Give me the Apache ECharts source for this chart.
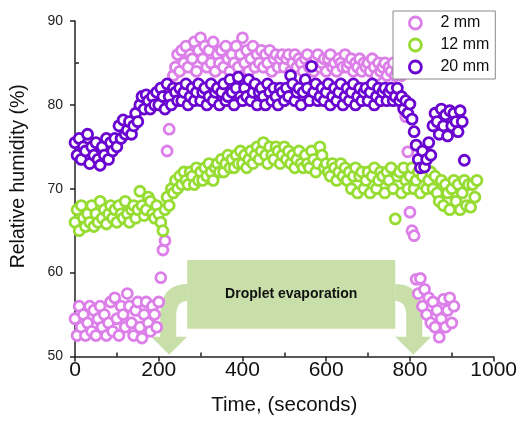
<!DOCTYPE html>
<html>
<head>
<meta charset="utf-8">
<script src="https://cdn.jsdelivr.net/npm/echarts@6/dist/echarts.min.js"></script>
<style>
html,body{margin:0;padding:0;background:#fff;}
#chart{width:520px;height:421px;}
</style>
</head>
<body>
<div id="chart"></div>
<script>
// Sampling times (s)
var time = [
  0,5,10,15,20,25,30,35,40,45,
  50,55,60,65,70,75,80,85,90,95,
  100,105,110,115,120,125,130,135,140,145,
  150,155,160,165,170,175,180,185,190,195,
  200,205,210,215,220,225,230,235,240,245,
  250,255,260,265,270,275,280,285,290,295,
  300,305,310,315,320,325,330,335,340,345,
  350,355,360,365,370,375,380,385,390,395,
  400,405,410,415,420,425,430,435,440,445,
  450,455,460,465,470,475,480,485,490,495,
  500,505,510,515,520,525,530,535,540,545,
  550,555,560,565,570,575,580,585,590,595,
  600,605,610,615,620,625,630,635,640,645,
  650,655,660,665,670,675,680,685,690,695,
  700,705,710,715,720,725,730,735,740,745,
  750,755,760,765,770,775,780,785,790,795,
  800,805,810,815,820,825,830,835,840,845,
  850,855,860,865,870,875,880,885,890,895,
  900,905,910,915,920,925,930,935,940,945,
  950,955,960
];
var seriesNames = ['2 mm', '12 mm', '20 mm'];
// Relative humidity (%), 2 mm
var rh2 = [
  54.5,52.5,56,53.5,55,52.5,54,56,53,55.5,
  52.5,54.5,56,53.5,55,52.5,54,56.5,53,57,
  54.5,52.5,56,55,53.5,57.5,56,54,52.5,55.5,
  56.5,53.5,52.2,55,56.5,54,53,56,55,53.5,
  56.5,59.4,62.7,63.8,74.5,77.1,null,83.5,84.5,86,
  84,86.5,85,87,84.5,86,85.5,87.5,84,86.5,
  88,85.5,87,84.5,86.5,85,87.5,84,86,85,
  86.5,84.5,87,85.5,84,86,85,87,84.5,86,
  88,85,86.5,84,85.5,87,84.5,86,85,86.5,
  84.5,86,85,86.5,84,85.5,86,84.5,85.5,86,
  84.5,85.5,86,84,85,86,84.5,85.5,85,84,
  85.5,86,84.5,85,84,85.5,86,84.5,85,85.5,
  84,85.5,86,84.5,85,84,85.5,85,84.5,86,
  84.5,85,85.5,84,85,84.5,85.5,84,85,84.5,
  85,84,85.5,84.5,83.5,85,84,84.5,85,83.5,
  84.5,84,85,83.5,84,84.5,83.5,80.5,78.6,74.4,
  67.2,65,64.4,59.2,57.5,59.3,56,58,55,57,
  54,56.5,53.5,55.5,52.3,54.5,56.8,53.5,55.5,57,
  54,56,null,null,null,null,null,null,null,null,
  null,null,null
];
// Relative humidity (%), 12 mm
var rh12 = [
  66,67.5,65,68,66.5,65.5,67,66,68,65.5,
  67,66,68.5,66.5,67.5,65.8,67,68,66.5,67.5,
  66,68,67,66.5,68.5,67,66,67.5,68,66.5,
  67.5,69.7,68,66.8,67.5,69,68.5,67,66.5,68,
  67,66,65,67.5,69,68,70,69.5,71,70,
  71.5,70.5,72,71,70.5,72,71.5,70.5,72.5,71,
  72,71,72.5,71.5,73,72,71,72.5,73,72,
  73.5,72,73,74,72.5,73.5,72.5,74,73,74.5,
  73,74,72.5,73.5,74.5,73,74,75,73.5,74.5,
  75.5,74,73,75,74,73.5,75,74.5,73,74,
  75,73.5,74.5,73,74,72.5,73.5,74.5,73,72.5,
  74,73,72.5,74.5,73.5,72,73,75,74,72.5,
  73,72,71.5,73,72.5,71,72,73,71.5,72.5,
  71,72,70,71.5,72.5,69.5,71.5,72,70,71,
  72,69.5,71.5,72.5,70,71,72,71.5,69.5,72,
  71,72.5,70,66.4,71.5,72,69.5,72.5,71,70,
  71.5,72.5,70,71,72,69.5,71.5,72.5,70,71,
  72,70,71.5,69.5,68.5,71,68,70.5,69.5,67.5,
  70,71,68.5,70.5,67.5,69.5,71,68,70.5,67.8,
  70.5,69,71
];
// Relative humidity (%), 20 mm
var rh20 = [
  75.5,74,76,73.5,75,74.5,76.5,73,75,74,
  75.5,73.5,72.8,75,74,76,73.5,75.5,74.5,76,
  75,77.5,76,78.2,76.5,77,78,76.5,77.5,79,
  78,80,81,79.5,81.2,80.5,79.5,81,80,81.5,
  80,82,81,79.5,82.5,81,80,82,81.5,80.5,
  82,80.5,81.5,82.5,80,81,82,80.5,81.5,82.5,
  80.5,81.5,82,80,81,82.5,80.5,81.5,82,80,
  81.5,82.5,80.5,81,83,81.5,80,82,83.3,81,
  80.5,82,81,83,80.5,81.5,82.5,80,81.5,82,
  81,80,82.5,81.5,80.5,82,81,80,82,81.5,
  80.5,82,81,83.5,82.5,80.5,81.5,82,80,81.5,
  83,82,80.5,84.6,81.5,82.5,80.5,81,82,80.5,
  81.5,82.5,80,81,82,80.5,81.5,82.5,80,81,
  82,80.5,81.5,82.5,80,81,82,80.5,81.5,82,
  80.5,81.5,82.5,80,81,82,80.5,81.5,82,80.5,
  81.5,82,80.5,81,82,80.5,81,79.5,80.5,79,
  80.1,78.3,76.8,75.2,73.5,72.5,74.5,72.6,73.5,75.5,
  74,77.5,79,78,76.5,79.5,77.5,78.8,76.3,79.3,
  77.5,79,78,76.8,79.3,78,73.4,null,null,null,
  null,null,null
];
var xTicks = [0, 200, 400, 600, 800, 1000];
var yTicks = [50, 60, 70, 80, 90];
var colors = ['#dc7fe9', '#96dc32', '#6a04d0'];

function pairs(vals) {
  var out = [];
  for (var i = 0; i < time.length; i++) {
    if (vals[i] !== null && vals[i] !== undefined) out.push([time[i], vals[i]]);
  }
  return out;
}

var chart = echarts.init(document.getElementById('chart'), null, {renderer: 'canvas'});
var allVals = [rh2, rh12, rh20];
var series = seriesNames.map(function (n, k) {
  return {
    name: n,
    type: 'scatter',
    symbol: 'circle',
    symbolSize: 10,
    z: 3 + k,
    itemStyle: {color: '#fff', borderColor: colors[k], borderWidth: 2.8, opacity: 1},
    emphasis: {disabled: true},
    data: pairs(allVals[k])
  };
});

var font = 'Liberation Sans, Arial, sans-serif';
chart.setOption({
  animation: false,
  backgroundColor: '#fff',
  grid: {left: 75, right: 24, top: 21, bottom: 60, containLabel: false},
  legend: {
    orient: 'vertical',
    left: 393,
    top: 11,
    itemWidth: 12,
    itemHeight: 12,
    itemGap: 4,
    padding: [3, 6, 3, 15],
    borderColor: '#8a8a8a',
    borderWidth: 1,
    backgroundColor: '#fff',
    textStyle: {fontFamily: font, fontSize: 16, color: '#111', lineHeight: 18, padding: [0, 0, 0, 14]},
    data: seriesNames.map(function (n, k) {
      return {name: n, icon: 'circle', itemStyle: {color: '#fff', borderColor: colors[k], borderWidth: 2.8}};
    })
  },
  xAxis: {
    type: 'value',
    min: xTicks[0],
    max: xTicks[xTicks.length - 1],
    interval: 200,
    name: 'Time, (seconds)',
    nameLocation: 'middle',
    nameGap: 38.5,
    nameTextStyle: {fontFamily: font, fontSize: 20.5, color: '#111'},
    axisLine: {show: true, lineStyle: {color: '#222', width: 1.5}},
    axisTick: {show: true, inside: false, length: 5, lineStyle: {color: '#222', width: 1.5}},
    minorTick: {show: true, splitNumber: 2, length: -4, lineStyle: {color: '#222', width: 1.5}},
    axisLabel: {fontFamily: font, fontSize: 21, color: '#111', margin: 3,
                formatter: function (v) { return String(v); }},
    splitLine: {show: false}
  },
  yAxis: {
    type: 'value',
    min: yTicks[0],
    max: yTicks[yTicks.length - 1],
    interval: 10,
    name: 'Relative humidity (%)',
    nameLocation: 'middle',
    nameGap: 46,
    nameTextStyle: {fontFamily: font, fontSize: 19.5, color: '#111', padding: [0, 0, 0, 25]},
    axisLine: {show: true, lineStyle: {color: '#222', width: 1.5}},
    axisTick: {show: true, inside: false, length: 5, lineStyle: {color: '#222', width: 1.5}},
    minorTick: {show: true, splitNumber: 2, length: -4, lineStyle: {color: '#222', width: 1.5}},
    axisLabel: {fontFamily: font, fontSize: 14, color: '#222', margin: 12},
    splitLine: {show: false}
  },
  series: series
});

// Annotation (data coordinates -> pixels)
var annoRect = {t0: 268, t1: 765, v0: 61.5, v1: 53.3};
var p0 = chart.convertToPixel({gridIndex: 0}, [annoRect.t0, annoRect.v0]);
var p1 = chart.convertToPixel({gridIndex: 0}, [annoRect.t1, annoRect.v1]);
var x0 = p0[0], y0 = p0[1], x1 = p1[0], y1 = p1[1];
var green = '#c8dfa9';

function quad(a, c, b, n) {
  var pts = [];
  for (var i = 0; i <= n; i++) {
    var s = i / n, u = 1 - s;
    pts.push([u * u * a[0] + 2 * u * s * c[0] + s * s * b[0],
              u * u * a[1] + 2 * u * s * c[1] + s * s * b[1]]);
  }
  return pts;
}
function arrow(xe, dir) {
  // xe: rect edge x, dir: -1 to the left, +1 to the right
  var outer = 27, inner = 11;
  var pts = [];
  pts = pts.concat(quad([xe, y0 + 24], [xe + dir * outer, y0 + 24], [xe + dir * outer, y0 + 56], 14));
  pts.push([xe + dir * outer, y1 + 8]);
  pts.push([xe + dir * 36, y1 + 8]);
  pts.push([xe + dir * 18, y1 + 26]);
  pts.push([xe, y1 + 8]);
  pts.push([xe + dir * inner, y1 + 8]);
  pts = pts.concat(quad([xe + dir * inner, y0 + 56], [xe + dir * inner, y0 + 41], [xe, y0 + 41], 10));
  return pts;
}

chart.setOption({
  graphic: [
    {type: 'polygon', z: 1, shape: {points: arrow(x0, -1)}, style: {fill: green}},
    {type: 'polygon', z: 1, shape: {points: arrow(x1, 1)}, style: {fill: green}},
    {type: 'rect', z: 1, shape: {x: x0, y: y0, width: x1 - x0, height: y1 - y0}, style: {fill: green}},
    {type: 'text', z: 2, x: (x0 + x1) / 2, y: (y0 + y1) / 2,
     style: {text: 'Droplet evaporation', fill: '#111', font: 'bold 14px ' + font, textAlign: 'center', textVerticalAlign: 'middle'}}
  ]
});
</script>
</body>
</html>
